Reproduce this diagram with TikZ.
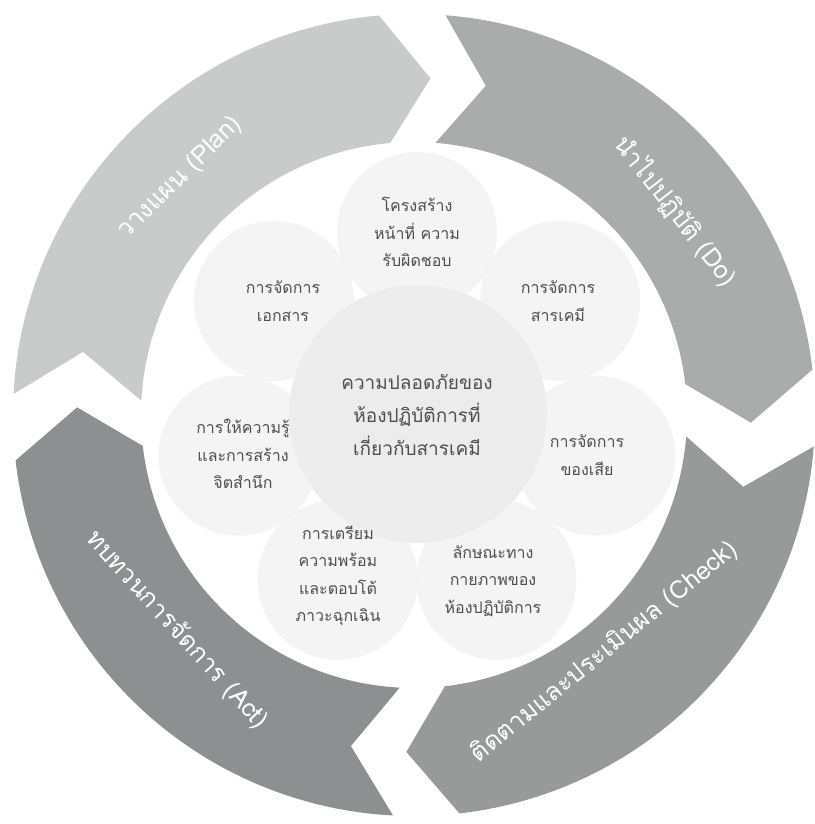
\documentclass[tikz,border=0pt]{standalone}
\usepackage{fontspec}
\newfontfamily\thaifont[Script=Thai]{Loma}
\usetikzlibrary{calc}
\definecolor{plancol}{RGB}{201,203,203}
\definecolor{docol}{RGB}{170,172,172}
\definecolor{checkcol}{RGB}{152,154,154}
\definecolor{actcol}{RGB}{141,144,144}
\definecolor{bandcol}{RGB}{216,216,216}
\definecolor{corecol}{RGB}{236,236,236}
\definecolor{satcol}{RGB}{238,238,238}
\definecolor{txtcol}{RGB}{78,78,78}
\pgfdeclareradialshading{coreshade}{\pgfpoint{0bp}{0bp}}{color(0bp)=(corecol); color(32bp)=(corecol); color(42bp)=(bandcol); color(50bp)=(bandcol)}
\newcommand\Ro{401}
\newcommand\Ri{273}
\newcommand\Rm{337}
\newcommand\dd{7.8}
\newcommand\pdcaarrow[3]{%
  \fill[#1] (#2:\Ro) arc[start angle=#2, end angle=#3, radius=\Ro]
    -- ({#3-\dd}:\Rm) -- (#3:\Ri)
    arc[start angle=#3, end angle=#2, radius=\Ri]
    -- ({#2-\dd}:\Rm) -- cycle;}
\begin{document}
\begin{tikzpicture}[x=1pt,y=1pt,
  ringlabel/.style={text=white, font=\thaifont\fontsize{25}{30}\selectfont, inner sep=0pt},
  satlabel/.style={text=txtcol, align=center, font=\thaifont\fontsize{16}{27.5}\selectfont, inner sep=0pt},
  corelabel/.style={text=txtcol, align=center, font=\thaifont\fontsize{19}{33}\selectfont, inner sep=0pt},
  satdisc/.style={fill=satcol, fill opacity=0.6}]
\fill[white] (0,0) rectangle (814,-824);
\useasboundingbox (0,0) rectangle (814,-824);
% ring of PDCA arrows
\begin{scope}[shift={(414,-415)}]
  \pdcaarrow{plancol}{177}{95}
  \pdcaarrow{docol}{85.5}{6.5}
  \pdcaarrow{checkcol}{-4.5}{-83.5}
  \pdcaarrow{actcol}{-93}{-173.5}
\end{scope}
% central circle
\shade[shading=coreshade] (418,-414) circle[radius=129];
% satellites
\begin{scope}[shift={(417,-415)}]
  \foreach \k in {0,...,6}{
    \fill[satdisc] ({90-\k*360/7}:183) circle[radius=80];
  }
\end{scope}
% ring labels
\node[ringlabel, rotate=44.5] (plan) at (180,-178) {วางแผน (Plan)};
\node[ringlabel, rotate=-52] (do) at (676,-211) {นำไปปฏิบัติ (Do)};
\node[ringlabel, rotate=39] (check) at (604,-652) {ติดตามและประเมินผล (Check)};
\node[ringlabel, rotate=-47.7] (act) at (177,-630) {ทบทวนการจัดการ (Act)};
% texts
\node[corelabel] (core) at (417,-415) {ความปลอดภัยของ\\ห้องปฏิบัติการที่\\เกี่ยวกับสารเคมี};
\node[satlabel] (s1) at (417,-232) {โครงสร้าง\\หน้าที่ ความ\\รับผิดชอบ};
\node[satlabel] (s2) at (558,-301) {การจัดการ\\สารเคมี};
\node[satlabel] (s3) at (587,-455) {การจัดการ\\ของเสีย};
\node[satlabel] (s4) at (493,-581) {ลักษณะทาง\\กายภาพของ\\ห้องปฏิบัติการ};
\node[satlabel] (s5) at (338,-576) {การเตรียม\\ความพร้อม\\และตอบโต้\\ภาวะฉุกเฉิน};
\node[satlabel] (s6) at (243,-454) {การให้ความรู้\\และการสร้าง\\จิตสำนึก};
\node[satlabel] (s7) at (283,-301) {การจัดการ\\เอกสาร};
\end{tikzpicture}
\end{document}
